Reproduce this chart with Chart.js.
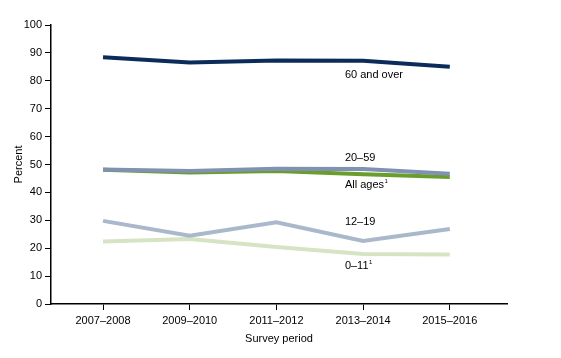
<!DOCTYPE html>
<html>
<head>
<meta charset="utf-8">
<script src="https://cdn.jsdelivr.net/npm/chart.js@4"></script>
<style>
  html, body { margin: 0; padding: 0; background: #fff; }
  #wrap { width: 561px; height: 358px; }
</style>
</head>
<body>
<div id="wrap"><canvas id="chart" width="561" height="358"></canvas></div>
<script>
const periods = ["2007\u20132008", "2009\u20132010", "2011\u20132012", "2013\u20132014", "2015\u20132016"];
const over60 = [88.4, 86.6, 87.3, 87.2, 85.0];
const age20to59 = [48.2, 47.7, 48.5, 48.4, 46.7];
const allAges = [48.1, 47.1, 47.7, 46.5, 45.5];
const age12to19 = [29.8, 24.5, 29.3, 22.6, 26.9];
const age0to11 = [22.4, 23.3, 20.4, 17.9, 17.7];
const yTicks = [0, 10, 20, 30, 40, 50, 60, 70, 80, 90, 100];

// series labels: [text, superscript, x (category index), y (percent)]
const seriesLabels = [
  ["60 and over", "", 2.79, 82],
  ["20\u201359", "", 2.79, 52.3],
  ["All ages", "1", 2.79, 42.8],
  ["12\u201319", "", 2.79, 29.5],
  ["0\u201311", "1", 2.79, 13.7]
];

const FONT = "Arial, 'Liberation Sans', sans-serif";

function toPoints(vals) {
  return vals.map((v, i) => ({ x: i, y: v }));
}

const labelPlugin = {
  id: "seriesLabels",
  afterDatasetsDraw(chart) {
    const ctx = chart.ctx;
    const xs = chart.scales.x, ys = chart.scales.y;
    ctx.save();
    ctx.fillStyle = "#000";
    ctx.textBaseline = "middle";
    ctx.textAlign = "left";
    seriesLabels.forEach(([txt, sup, xv, yv]) => {
      const px = xs.getPixelForValue(xv);
      const py = ys.getPixelForValue(yv);
      ctx.font = "11px " + FONT;
      ctx.fillText(txt, px, py);
      if (sup) {
        const w = ctx.measureText(txt).width;
        ctx.font = "6px " + FONT;
        ctx.fillText(sup, px + w + 0.5, py - 3);
      }
    });
    ctx.restore();
  }
};

new Chart(document.getElementById("chart").getContext("2d"), {
  type: "line",
  data: {
    datasets: [
      { label: "60 and over", data: toPoints(over60), borderColor: "#0b2c5a" },
      { label: "20\u201359", data: toPoints(age20to59), borderColor: "#8092b1" },
      { label: "All ages", data: toPoints(allAges), borderColor: "#6a9e2c" },
      { label: "12\u201319", data: toPoints(age12to19), borderColor: "#aab8cb" },
      { label: "0\u201311", data: toPoints(age0to11), borderColor: "#d6e4c3" }
    ]
  },
  options: {
    responsive: false,
    animation: false,
    layout: { padding: { top: 25, right: 54, left: 12, bottom: 12 } },
    elements: {
      line: { borderWidth: 4, tension: 0, borderCapStyle: "butt" },
      point: { radius: 0, hoverRadius: 0 }
    },
    plugins: {
      legend: { display: false },
      tooltip: { enabled: false }
    },
    scales: {
      x: {
        type: "linear",
        min: -0.6,
        max: 4.66,
        afterBuildTicks(scale) {
          scale.ticks = periods.map((p, i) => ({ value: i }));
        },
        afterFit(scale) { scale.height = 42; },
        ticks: {
          callback: (v) => periods[v],
          color: "#000",
          font: { family: FONT, size: 11 },
          padding: 4,
          maxRotation: 0
        },
        grid: { drawOnChartArea: false, drawTicks: true, tickLength: 6, color: "#000", lineWidth: 1 },
        border: { display: true, color: "#000", width: 1.5 },
        title: {
          display: true,
          text: "Survey period",
          color: "#000",
          font: { family: FONT, size: 11 },
          padding: { top: 4, bottom: 0 }
        }
      },
      y: {
        min: 0,
        max: 100,
        afterBuildTicks(scale) {
          scale.ticks = yTicks.map((v) => ({ value: v }));
        },
        afterFit(scale) { scale.width = 39; },
        ticks: {
          color: "#000",
          font: { family: FONT, size: 11 },
          padding: 3
        },
        grid: { drawOnChartArea: false, drawTicks: true, tickLength: 6, color: "#000", lineWidth: 1 },
        border: { display: true, color: "#000", width: 1.5 },
        title: {
          display: true,
          text: "Percent",
          color: "#000",
          font: { family: FONT, size: 11 },
          padding: { top: 0, bottom: 2 }
        }
      }
    }
  },
  plugins: [labelPlugin]
});
</script>
</body>
</html>
